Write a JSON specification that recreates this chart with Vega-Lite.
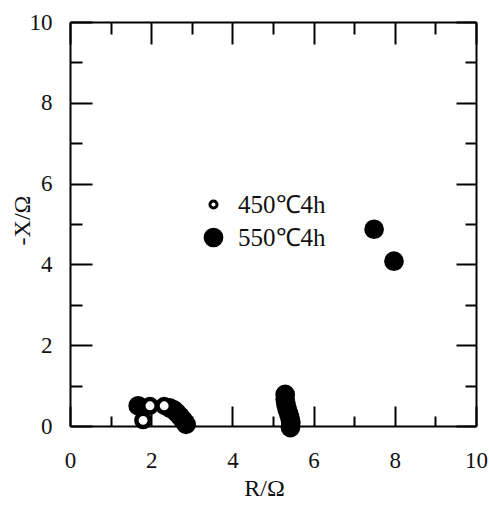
{
  "$schema": "https://vega.github.io/schema/vega-lite/v6.json",
  "width": 406,
  "height": 404,
  "autosize": "none",
  "padding": {"left": 70, "top": 22, "right": 13, "bottom": 81},
  "background": "white",
  "config": {
    "view": {"stroke": null},
    "axis": {
      "domainColor": "black",
      "domainWidth": 2,
      "tickColor": "black",
      "tickWidth": 2,
      "grid": false,
      "labelFont": "Liberation Serif",
      "labelFontSize": 23,
      "labelColor": "#111",
      "titleFont": "Liberation Serif",
      "titleFontSize": 24,
      "titleFontWeight": "normal",
      "titleColor": "#111"
    }
  },
  "data": {
    "values": [
      {"series": "550℃4h", "R": 1.68, "X": 0.5},
      {"series": "550℃4h", "R": 2.45, "X": 0.45},
      {"series": "550℃4h", "R": 2.55, "X": 0.4},
      {"series": "550℃4h", "R": 2.63, "X": 0.33},
      {"series": "550℃4h", "R": 2.71, "X": 0.24},
      {"series": "550℃4h", "R": 2.79, "X": 0.14},
      {"series": "550℃4h", "R": 2.86, "X": 0.04},
      {"series": "550℃4h", "R": 5.3, "X": 0.78},
      {"series": "550℃4h", "R": 5.3, "X": 0.66},
      {"series": "550℃4h", "R": 5.32, "X": 0.53},
      {"series": "550℃4h", "R": 5.35, "X": 0.41},
      {"series": "550℃4h", "R": 5.39, "X": 0.3},
      {"series": "550℃4h", "R": 5.42, "X": 0.19},
      {"series": "550℃4h", "R": 5.44, "X": 0.08},
      {"series": "550℃4h", "R": 5.43, "X": -0.04},
      {"series": "550℃4h", "R": 7.49, "X": 4.87},
      {"series": "550℃4h", "R": 7.98, "X": 4.08},
      {"series": "450℃4h", "R": 1.8, "X": 0.14},
      {"series": "450℃4h", "R": 1.97, "X": 0.5},
      {"series": "450℃4h", "R": 2.32, "X": 0.5}
    ]
  },
  "layer": [
    {
      "transform": [{"filter": "datum.series === '550℃4h'"}],
      "mark": {"type": "point", "shape": "circle", "filled": true, "opacity": 1, "stroke": "black", "strokeWidth": 3},
      "encoding": {
        "x": {
          "field": "R", "type": "quantitative",
          "scale": {"domain": [0, 10], "nice": false, "zero": false},
          "axis": {
            "orient": "bottom",
            "values": [0, 1, 2, 3, 4, 5, 6, 7, 8, 9, 10],
            "tickSize": {"condition": {"test": "datum.value % 2 === 0", "value": -20}, "value": -10},
            "labelExpr": "datum.value % 2 === 0 ? datum.label : ''",
            "labelPadding": 43,
            "labelFlush": false,
            "labelOverlap": false,
            "title": "R/Ω",
            "titleX": 194,
            "titleY": 62,
            "titleBaseline": "middle"
          }
        },
        "y": {
          "field": "X", "type": "quantitative",
          "scale": {"domain": [0, 10], "nice": false, "zero": false},
          "axis": {
            "orient": "left",
            "values": [0, 1, 2, 3, 4, 5, 6, 7, 8, 9, 10],
            "tickSize": {"condition": {"test": "datum.value % 2 === 0", "value": -22}, "value": -12},
            "labelExpr": "datum.value % 2 === 0 ? datum.label : ''",
            "labelPadding": 40,
            "labelFlush": false,
            "labelOverlap": false,
            "title": "-X/Ω",
            "titleX": -48,
            "titleY": 198,
            "titleBaseline": "middle",
            "titleAngle": -90
          }
        },
        "fill": {
          "field": "series", "type": "nominal",
          "scale": {"domain": ["450℃4h", "550℃4h"], "range": ["white", "black"]},
          "legend": {
            "orient": "none",
            "legendX": 131,
            "legendY": 170,
            "title": null,
            "padding": 0,
            "rowPadding": 5,
            "labelFont": "Liberation Serif",
            "labelFontSize": 25,
            "labelColor": "#111",
            "labelOffset": 12,
            "symbolType": "circle",
            "symbolStrokeColor": "black",
            "symbolStrokeWidth": 3
          }
        },
        "size": {
          "field": "series", "type": "nominal",
          "scale": {"domain": ["450℃4h", "550℃4h"], "range": [50, 280]},
          "legend": {
            "orient": "none",
            "legendX": 131,
            "legendY": 170,
            "title": null
          }
        }
      }
    },
    {
      "transform": [{"filter": "datum.series === '450℃4h'"}],
      "mark": {"type": "point", "shape": "circle", "filled": true, "size": 180, "stroke": "black", "strokeWidth": 4.5, "opacity": 1},
      "encoding": {
        "x": {
          "field": "R", "type": "quantitative",
          "scale": {"domain": [0, 10], "nice": false, "zero": false},
          "axis": {
            "orient": "top",
            "values": [0, 1, 2, 3, 4, 5, 6, 7, 8, 9, 10],
            "tickSize": {"condition": {"test": "datum.value % 2 === 0", "value": -22}, "value": -12},
            "labels": false,
            "title": null
          }
        },
        "y": {
          "field": "X", "type": "quantitative",
          "scale": {"domain": [0, 10], "nice": false, "zero": false},
          "axis": {
            "orient": "right",
            "values": [0, 1, 2, 3, 4, 5, 6, 7, 8, 9, 10],
            "tickSize": {"condition": {"test": "datum.value % 2 === 0", "value": -20}, "value": -11},
            "labels": false,
            "title": null
          }
        },
        "fill": {
          "field": "series", "type": "nominal",
          "scale": {"domain": ["450℃4h", "550℃4h"], "range": ["white", "black"]}
        }
      }
    }
  ],
  "resolve": {"axis": {"x": "independent", "y": "independent"}}
}
